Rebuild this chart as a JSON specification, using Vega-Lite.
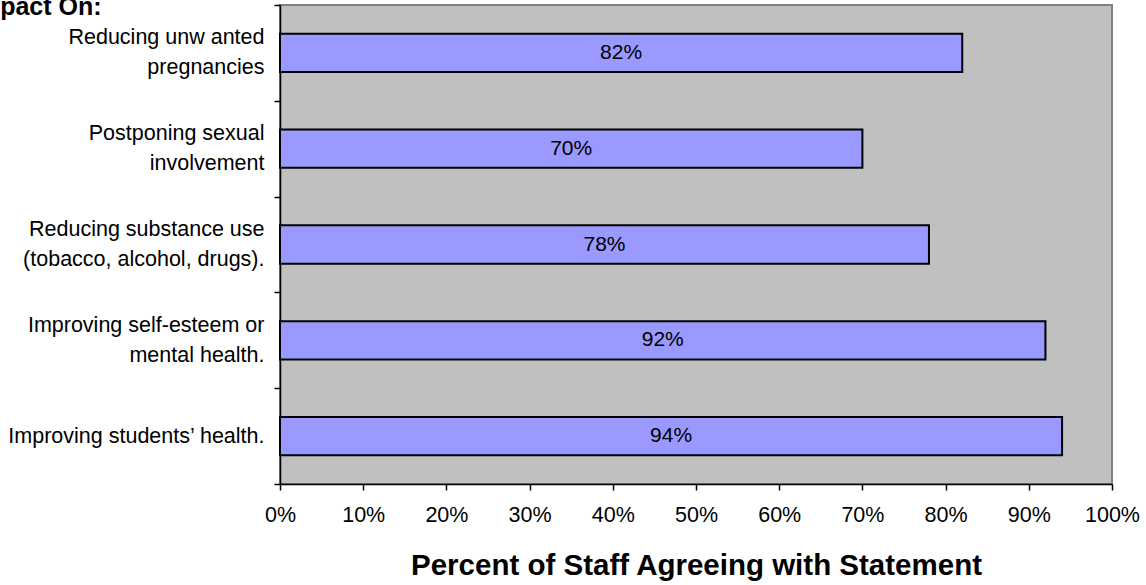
{
  "$schema": "https://vega.github.io/schema/vega-lite/v6.json",
  "autosize": "none",
  "width": 832,
  "height": 479,
  "padding": {"left": 280, "top": 5, "right": 34, "bottom": 101},
  "background": "white",
  "title": {
    "text": "Impact On:",
    "orient": "none",
    "anchor": "start",
    "frame": "group",
    "font": "Liberation Sans",
    "fontSize": 25,
    "fontWeight": "bold",
    "color": "black",
    "baseline": "alphabetic",
    "offset": 0,
    "dx": -309,
    "dy": 10
  },
  "config": {
    "font": "Liberation Sans",
    "view": {"fill": "#C0C0C0", "stroke": "#808080", "strokeWidth": 2},
    "axis": {
      "domainColor": "black",
      "domainWidth": 1.5,
      "tickColor": "black",
      "tickWidth": 1.5,
      "tickSize": 6,
      "labelFont": "Liberation Sans",
      "labelFontSize": 21.5,
      "labelColor": "black",
      "grid": false
    }
  },
  "data": {
    "values": [
      {"item": "Reducing unw anted|pregnancies", "order": 1, "pct": 0.82},
      {"item": "Postponing sexual|involvement", "order": 2, "pct": 0.70},
      {"item": "Reducing substance use|(tobacco, alcohol, drugs).", "order": 3, "pct": 0.78},
      {"item": "Improving self-esteem or|mental health.", "order": 4, "pct": 0.92},
      {"item": "Improving students’ health.", "order": 5, "pct": 0.94}
    ]
  },
  "transform": [{"calculate": "datum.pct / 2", "as": "mid"}],
  "encoding": {
    "y": {
      "field": "item",
      "type": "nominal",
      "sort": {"field": "order"},
      "scale": {"paddingInner": 0, "paddingOuter": 0},
      "axis": {
        "title": null,
        "tickBand": "extent",
        "labelExpr": "datum.value ? split(datum.value, '|') : ''",
        "labelLineHeight": 30,
        "labelPadding": 10,
        "labelLimit": 300,
        "labelOffset": {
          "condition": {"test": "datum.value && indexof(datum.value, '|') >= 0", "value": -15},
          "value": 0
        }
      }
    }
  },
  "layer": [
    {
      "mark": {"type": "bar", "fill": "#9999FF", "stroke": "black", "strokeWidth": 2, "height": {"band": 0.4}},
      "encoding": {
        "x": {
          "field": "pct",
          "type": "quantitative",
          "scale": {"domain": [0, 1], "nice": false},
          "axis": {
            "format": ".0%",
            "values": [0, 0.1, 0.2, 0.3, 0.4, 0.5, 0.6, 0.7, 0.8, 0.9, 1],
            "labelOverlap": false,
            "labelFlush": false,
            "labelPadding": 14,
            "title": "Percent of Staff Agreeing with Statement",
            "titleFont": "Liberation Sans",
            "titleFontSize": 29.5,
            "titleFontWeight": "bold",
            "titleColor": "black",
            "titlePadding": 26
          }
        }
      }
    },
    {
      "mark": {"type": "text", "font": "Liberation Sans", "fontSize": 21, "color": "black", "baseline": "middle", "align": "center"},
      "encoding": {
        "x": {"field": "mid", "type": "quantitative"},
        "text": {"field": "pct", "type": "quantitative", "format": ".0%"}
      }
    }
  ]
}
